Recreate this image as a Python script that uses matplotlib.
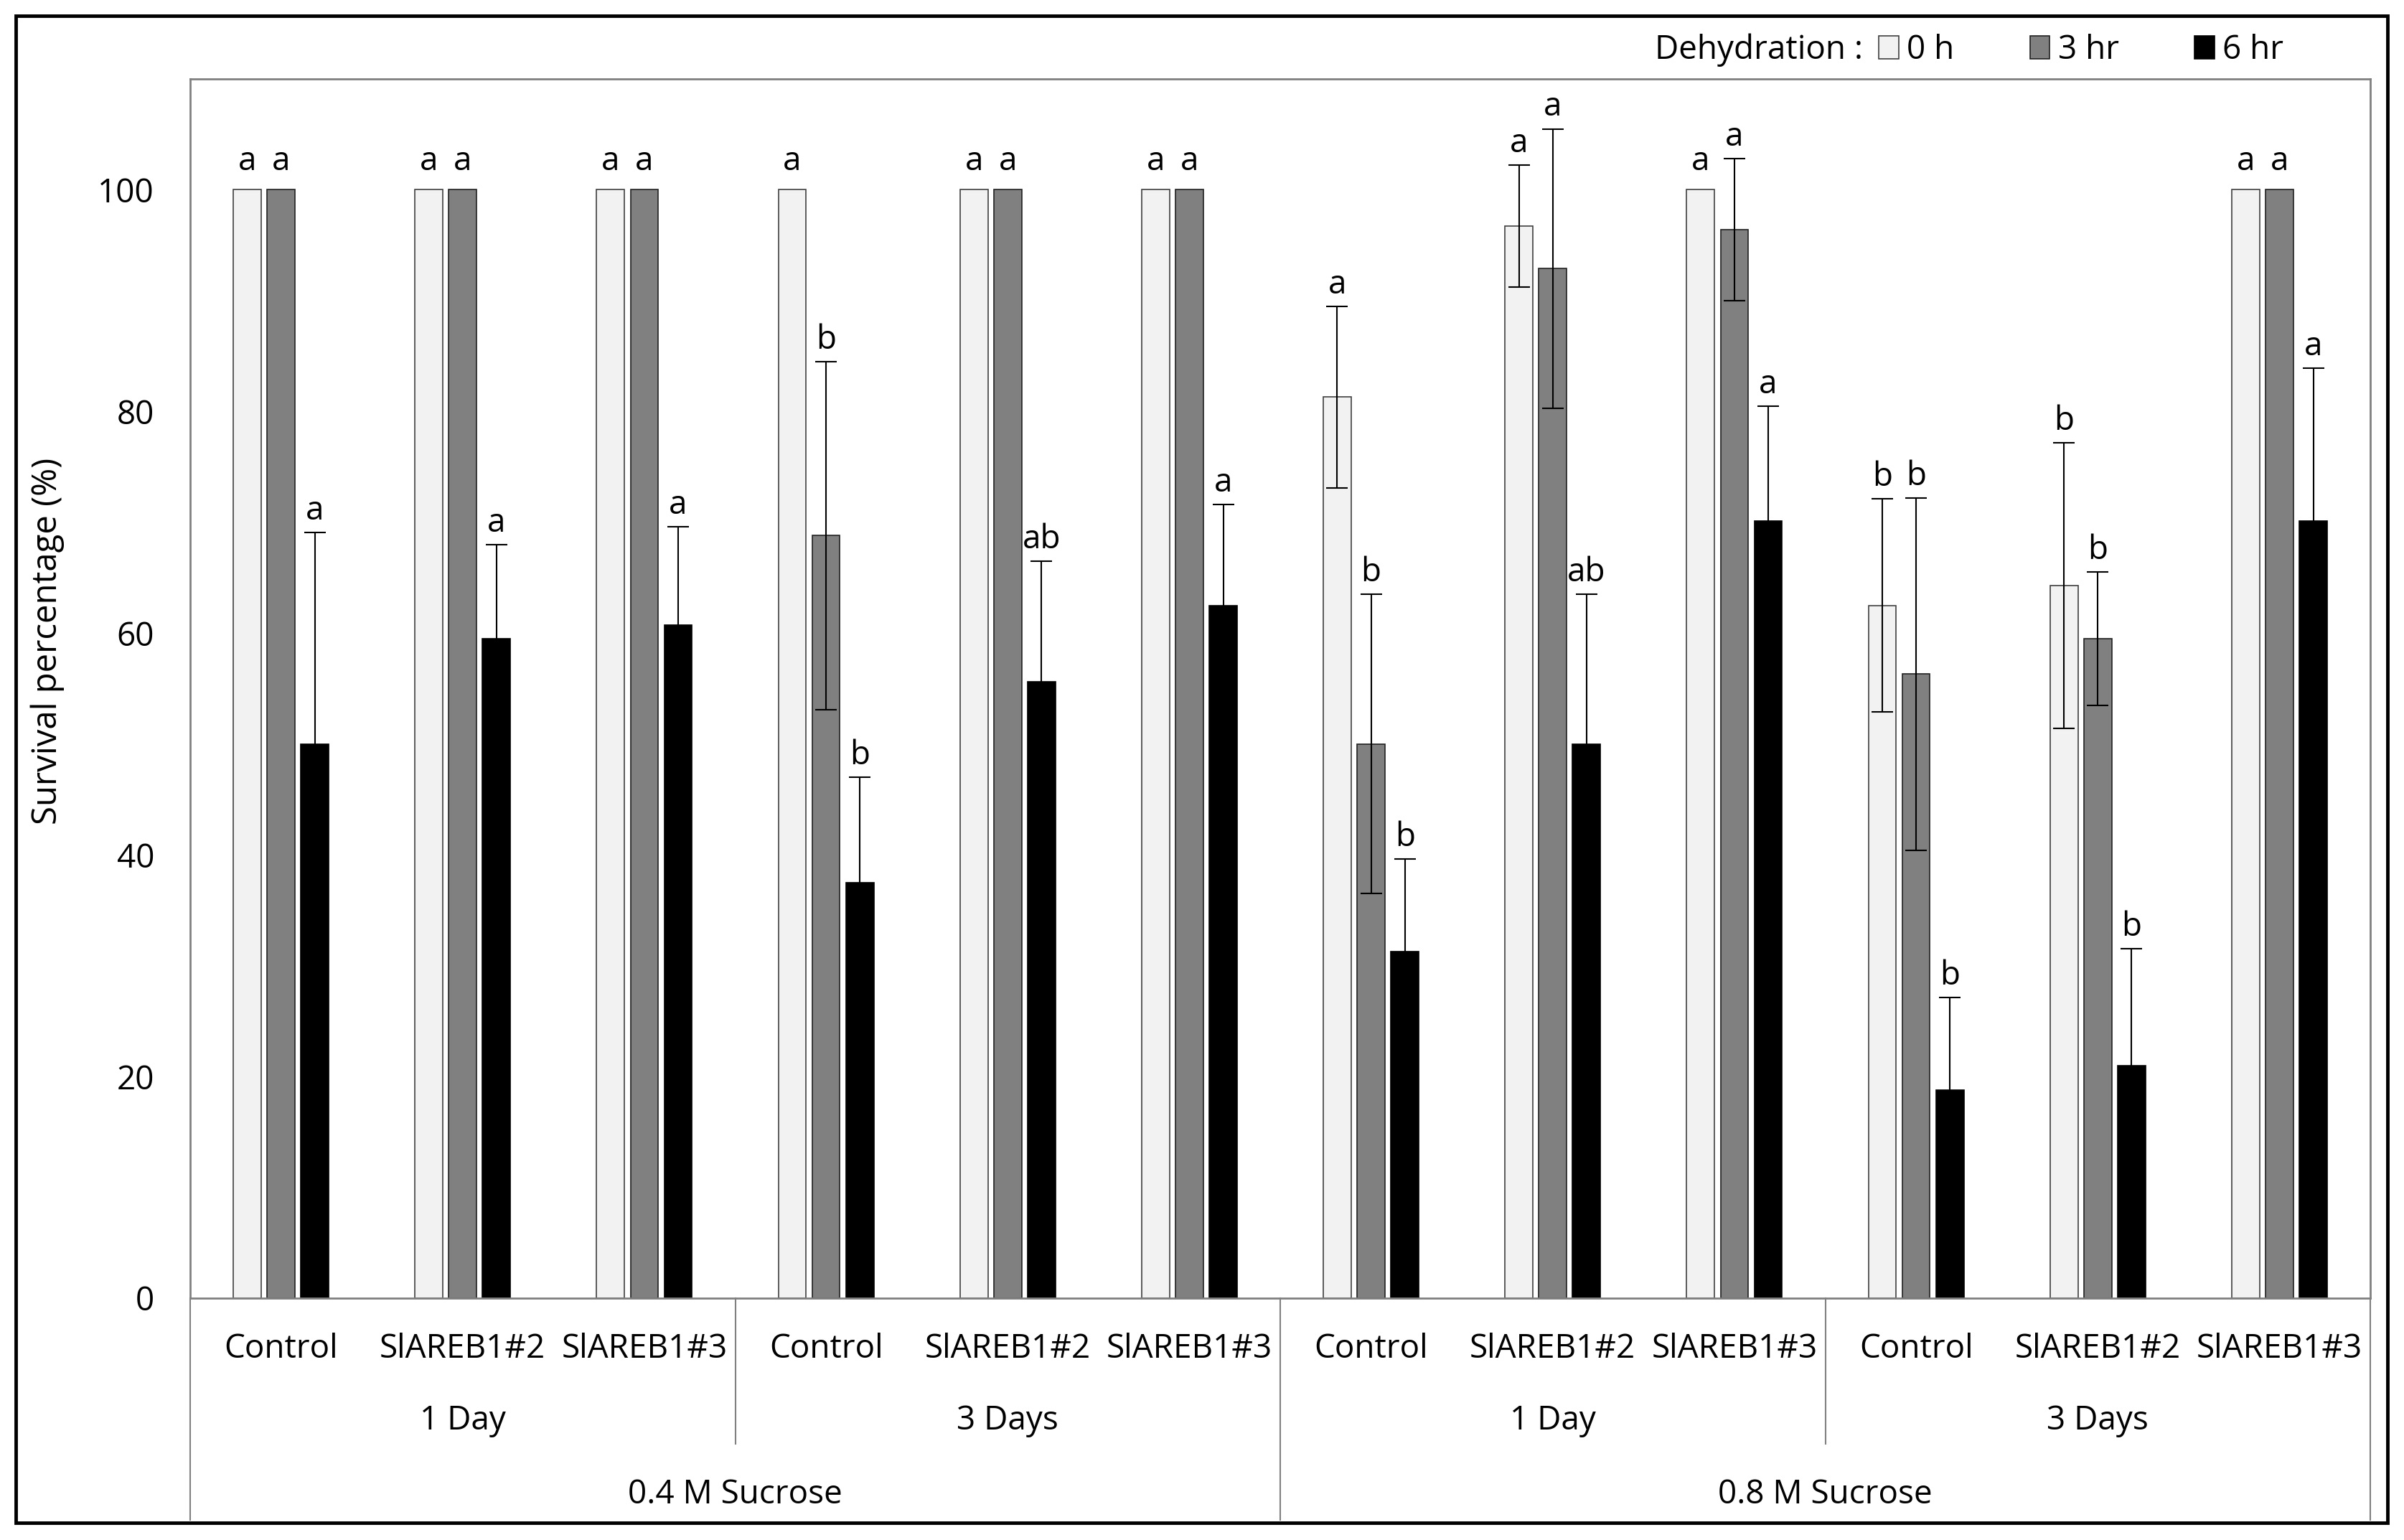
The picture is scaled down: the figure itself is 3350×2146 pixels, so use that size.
import numpy as np
import matplotlib
matplotlib.use("Agg")
import matplotlib.pyplot as plt
from matplotlib.patches import Patch, Rectangle

plt.rcParams['font.family'] = ['Open Sans', 'DejaVu Sans']

# data
genotypes = ["Control", "SlAREB1#2", "SlAREB1#3"] * 4
days = ["1 Day", "3 Days", "1 Day", "3 Days"]
sucrose = ["0.4 M Sucrose", "0.8 M Sucrose"]
series = ["0 h", "3 hr", "6 hr"]

h0 = [100, 100, 100, 100, 100, 100, 81.3, 96.7, 100, 62.5, 64.3, 100]
h3 = [100, 100, 100, 68.8, 100, 100, 50.0, 92.9, 96.4, 56.3, 59.5, 100]
h6 = [50.0, 59.5, 60.7, 37.5, 55.6, 62.5, 31.3, 50.0, 70.1, 18.8, 21.0, 70.1]

e0 = [0, 0, 0, 0, 0, 0, 8.2, 5.5, 0, 9.6, 12.9, 0]
e3 = [0, 0, 0, 15.7, 0, 0, 13.5, 12.6, 6.4, 15.9, 6.0, 0]
e6 = [19.1, 8.5, 8.9, 9.5, 10.9, 9.1, 8.3, 13.5, 10.4, 8.3, 10.5, 13.8]

l0 = ["a", "a", "a", "a", "a", "a", "a", "a", "a", "b", "b", "a"]
l3 = ["a", "a", "a", "b", "a", "a", "b", "a", "a", "b", "b", "a"]
l6 = ["a", "a", "a", "b", "ab", "a", "b", "ab", "a", "b", "b", "a"]

colors = ["#f2f2f2", "#808080", "#000000"]
edges = ["#404040", "#202020", "#000000"]
fs = 33
line_c = "#808080"

fig = plt.figure(figsize=(33.5, 21.46), dpi=100)
ax = fig.add_axes([265 / 3350, 1 - 1809 / 2146, (3303 - 265) / 3350, (1809 - 110) / 2146])

x = np.arange(len(genotypes))
offsets = [-0.186, 0.0, 0.186]
width = 0.153

for vals, errs, labs, off, c, ec in zip([h0, h3, h6], [e0, e3, e6], [l0, l3, l6], offsets, colors, edges):
    vals = np.array(vals)
    errs = np.array(errs)
    ax.bar(x + off, vals, width, color=c, edgecolor=ec, linewidth=1.2, zorder=2)
    m = errs > 0
    ax.errorbar(x[m] + off, vals[m], yerr=errs[m], fmt="none", ecolor="black",
                elinewidth=1.5, capsize=11, capthick=1.5, zorder=3)
    for xi, v, e, lab in zip(x + off, vals, errs, labs):
        dy = 13 if e > 0 else 20
        ax.annotate(lab, (xi, v + e), xytext=(0, dy), textcoords="offset points",
                    ha="center", va="baseline", fontsize=fs)

ax.set_xlim(-0.5, 11.5)
ax.set_ylim(0, 110)
ax.set_yticks([0, 20, 40, 60, 80, 100])
ax.tick_params(axis="y", length=0, pad=36, labelsize=fs)
ax.set_xticks([])
for s in ax.spines.values():
    s.set_color(line_c)
    s.set_linewidth(2)
ax.set_ylabel("Survival percentage (%)", fontsize=fs + 1)
ax.yaxis.set_label_coords(-0.0576, 0.539)

# category table under the x axis
tr = ax.get_xaxis_transform()
for xv, yb in [(-0.5, -0.182), (11.5, -0.182), (5.5, -0.182), (2.5, -0.1195), (8.5, -0.1195)]:
    ax.plot([xv, xv], [0, yb], transform=tr, color=line_c, lw=1.5, clip_on=False)
for xi, g in zip(x, genotypes):
    ax.text(xi, -0.0418, g, transform=tr, ha="center", va="center", fontsize=fs)
for i, d in enumerate(days):
    ax.text(3 * i + 1, -0.1007, d, transform=tr, ha="center", va="center", fontsize=fs)
for i, s in enumerate(sucrose):
    ax.text(6 * i + 2.5, -0.161, s, transform=tr, ha="center", va="center", fontsize=fs)

# legend
handles = [Patch(facecolor=c, edgecolor=ec, linewidth=1.2) for c, ec in zip(colors, edges)]
fig.legend(handles, series, ncol=3, loc="center left", bbox_to_anchor=(2618 / 3350, 1 - 70 / 2146),
           frameon=False, fontsize=fs, handlelength=0.6, handleheight=0.7, handletextpad=0.25,
           columnspacing=2.3, borderaxespad=0, borderpad=0)
fig.text(2596 / 3350, 1 - 70 / 2146, "Dehydration :", ha="right", va="center", fontsize=fs)

# outer frame
fig.patches.append(Rectangle((22 / 3350, 1 - 2122 / 2146), (3327 - 22) / 3350, (2122 - 22) / 2146,
                             transform=fig.transFigure, fill=False, edgecolor="black", linewidth=3.5))

fig.savefig("out.png", dpi=100)
